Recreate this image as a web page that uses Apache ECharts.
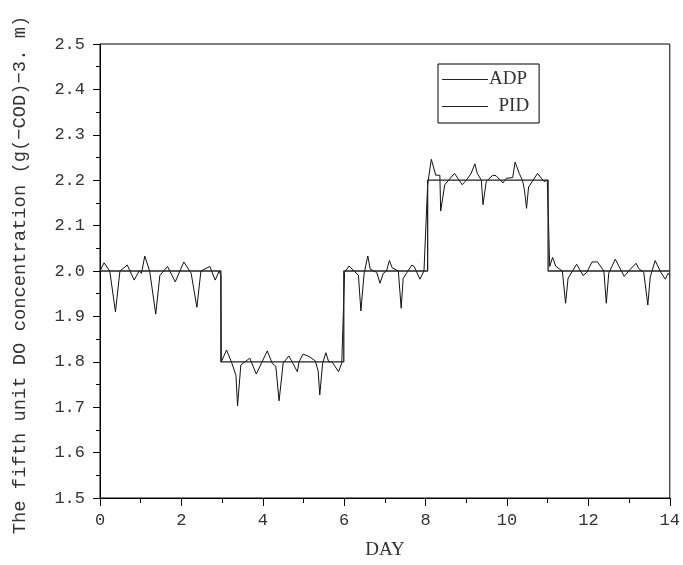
<!DOCTYPE html>
<html>
<head>
<meta charset="utf-8">
<script src="https://cdn.jsdelivr.net/npm/echarts@6/dist/echarts.min.js"></script>
<style>html,body{margin:0;padding:0;background:#fff;}#chart{width:683px;height:565px;}</style>
</head>
<body>
<div id="chart"></div>
<script>
// ADP (step response)
var adpX = [0, 2.97, 2.97, 5.99, 5.99, 8.05, 8.05, 11.01, 11.01, 14];
var adpY = [2.0, 2.0, 1.8, 1.8, 2.0, 2.0, 2.2, 2.2, 2.0, 2.0];
// PID (oscillating response)
var pidX = [0.00,0.10,0.24,0.38,0.49,0.67,0.84,0.96,1.02,1.10,1.22,1.37,1.47,1.66,1.85,2.06,2.24,2.38,2.48,2.70,2.83,2.93,2.97,
  2.98,3.11,3.24,3.34,3.38,3.46,3.68,3.84,4.11,4.23,4.32,4.40,4.50,4.64,4.85,4.89,4.99,5.13,5.29,5.36,5.40,5.47,5.55,5.62,5.70,5.86,5.94,
  6.01,6.12,6.35,6.41,6.49,6.58,6.64,6.80,6.88,6.96,7.04,7.11,7.18,7.33,7.40,7.45,7.53,7.66,7.72,7.86,7.96,
  8.05,8.14,8.25,8.35,8.37,8.47,8.71,8.90,9.00,9.12,9.21,9.27,9.37,9.41,9.49,9.65,9.73,9.90,9.98,10.14,10.20,10.30,10.38,10.43,10.48,10.53,10.75,10.91,10.99,
  11.05,11.12,11.20,11.36,11.44,11.50,11.71,11.87,11.96,12.09,12.22,12.38,12.44,12.50,12.66,12.88,12.99,13.17,13.24,13.36,13.46,13.52,13.64,13.78,13.89,13.96,14.00];
var pidY = [2.000,2.018,2.000,1.910,2.000,2.013,1.980,2.000,1.995,2.033,2.000,1.905,1.990,2.010,1.976,2.020,1.995,1.920,2.000,2.010,1.980,2.000,1.990,
  1.800,1.826,1.797,1.770,1.703,1.793,1.808,1.773,1.824,1.797,1.790,1.714,1.797,1.813,1.778,1.800,1.817,1.812,1.802,1.780,1.727,1.797,1.820,1.800,1.800,1.778,1.797,
  1.997,2.011,1.990,1.912,1.995,2.033,2.004,1.997,1.973,1.995,2.000,2.023,2.007,2.000,1.918,1.984,1.995,2.013,2.010,1.982,2.000,
  2.190,2.246,2.211,2.211,2.132,2.190,2.215,2.190,2.200,2.215,2.236,2.215,2.200,2.146,2.197,2.211,2.210,2.194,2.204,2.206,2.240,2.215,2.200,2.178,2.138,2.185,2.215,2.197,2.200,
  2.010,2.030,2.010,2.000,1.929,1.984,2.015,1.990,1.997,2.020,2.020,2.000,1.929,1.995,2.026,1.988,2.000,2.017,2.005,1.997,1.925,1.987,2.023,1.997,1.982,1.995,1.990];
var seriesNames = ['ADP', 'PID'];
var yTitle = 'The fifth unit DO concentration (g(\u2212COD)\u22123. m)';
var xTitle = 'DAY';

function pairs(xs, ys) { return xs.map(function (x, i) { return [x, ys[i]]; }); }

var chart = echarts.init(document.getElementById('chart'), null, {renderer: 'canvas'});
var monoFont = '"Liberation Mono", monospace';
var serifFont = '"Liberation Serif", serif';
chart.setOption({
  animation: false,
  backgroundColor: '#fff',
  grid: {left: 100, right: 10, top: 44, bottom: 67, show: true, borderColor: '#000', borderWidth: 1},
  legend: {
    orient: 'vertical', left: 438, top: 64,
    backgroundColor: '#fff', borderColor: '#000', borderWidth: 1,
    padding: [6, 10, 7, 4], itemGap: 8, itemWidth: 46, itemHeight: 1,
    icon: 'rect',
    itemStyle: {color: '#222', borderWidth: 0},
    textStyle: {fontFamily: serifFont, fontSize: 19, color: '#333', padding: [0, 0, 0, -4]},
    formatter: function (n) { return n === 'PID' ? '  PID' : n; },
    data: seriesNames
  },
  xAxis: {
    type: 'value', min: 0, max: 14, interval: 2,
    name: xTitle, nameLocation: 'middle', nameGap: 43,
    nameTextStyle: {fontFamily: serifFont, fontSize: 19, color: '#333'},
    axisLine: {lineStyle: {color: '#000', width: 1}},
    axisTick: {length: 8, lineStyle: {color: '#000'}},
    minorTick: {show: true, splitNumber: 2, length: 5, lineStyle: {color: '#000'}},
    splitLine: {show: false},
    axisLabel: {margin: 14, fontFamily: monoFont, fontSize: 17, color: '#333'}
  },
  yAxis: {
    type: 'value', min: 1.5, max: 2.5, interval: 0.1,
    name: yTitle, nameLocation: 'middle', nameGap: 70,
    nameTextStyle: {fontFamily: monoFont, fontSize: 18.8, color: '#333', padding: [0, 0, 0, -8]},
    axisLine: {show: true, lineStyle: {color: '#000', width: 1}},
    axisTick: {show: true, length: 7, lineStyle: {color: '#000'}},
    minorTick: {show: true, splitNumber: 2, length: 4, lineStyle: {color: '#000'}},
    splitLine: {show: false},
    axisLabel: {margin: 15, fontFamily: monoFont, fontSize: 17, color: '#333',
      formatter: function (v) { return v.toFixed(1); }}
  },
  series: [
    {name: seriesNames[0], type: 'line', data: pairs(adpX, adpY), symbol: 'none',
      itemStyle: {color: '#222'}, lineStyle: {color: '#222', width: 1.3}, z: 3},
    {name: seriesNames[1], type: 'line', data: pairs(pidX, pidY), symbol: 'none',
      itemStyle: {color: '#222'}, lineStyle: {color: '#111', width: 1}, z: 2}
  ]
});
</script>
</body>
</html>
